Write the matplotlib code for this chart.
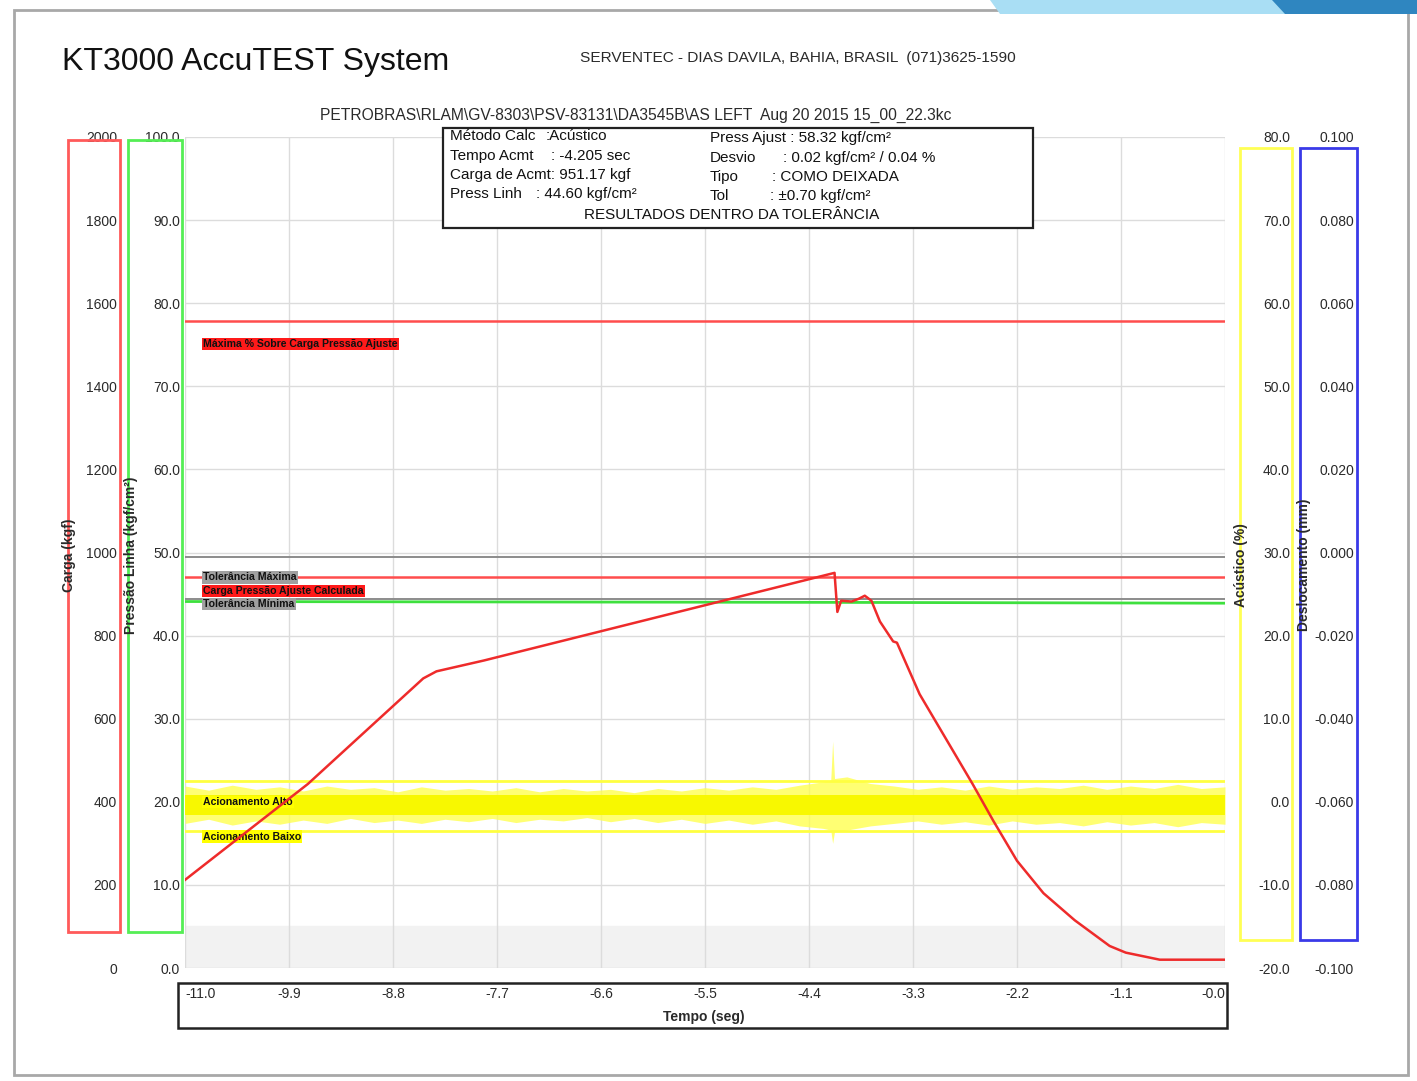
import matplotlib

matplotlib.use("Agg")

import matplotlib.pyplot as plt
from matplotlib.patches import Polygon, Rectangle

plt.rcParams["font.family"] = ["Liberation Sans", "DejaVu Sans"]

# ---- data ----
time_ticks = [-11.0, -9.9, -8.8, -7.7, -6.6, -5.5, -4.4, -3.3, -2.2, -1.1, 0.0]
time_labels = ["-11.0", "-9.9", "-8.8", "-7.7", "-6.6", "-5.5", "-4.4", "-3.3", "-2.2", "-1.1", "-0.0"]

carga_ticks = [0, 200, 400, 600, 800, 1000, 1200, 1400, 1600, 1800, 2000]
press_ticks = [0, 10, 20, 30, 40, 50, 60, 70, 80, 90, 100]
acust_ticks = [-20, -10, 0, 10, 20, 30, 40, 50, 60, 70, 80]
desloc_ticks = [-0.1, -0.08, -0.06, -0.04, -0.02, 0.0, 0.02, 0.04, 0.06, 0.08, 0.1]

# load (kgf) vs time (s)
load_time = [-11.0, -9.70, -8.48, -8.34, -7.84, -4.13, -4.10, -4.06, -3.95, -3.87,
             -3.81, -3.74, -3.65, -3.51, -3.47, -3.23, -2.67, -2.45, -2.20, -1.92,
             -1.59, -1.22, -1.05, -0.69, 0.0]
load_kgf = [212, 443, 697, 714, 740, 951, 857, 884, 882, 889,
            896, 884, 834, 786, 783, 659, 443, 354, 258, 180,
            115, 53, 37, 20, 20]

# line pressure (kgf/cm2)
line_time = [-11.0, -4.2, 0.0]
line_press = [44.1, 44.0, 43.9]

# acoustic signal envelope (%)
acust_time = [-11.0, -10.75, -10.5, -10.25, -10.0, -9.75, -9.5, -9.25, -9.0, -8.75,
              -8.5, -8.25, -8.0, -7.75, -7.5, -7.25, -7.0, -6.75, -6.5, -6.25,
              -6.0, -5.75, -5.5, -5.25, -5.0, -4.75, -4.5, -4.25,
              -4.17, -4.15, -4.13,
              -4.0, -3.75, -3.5, -3.25, -3.0, -2.75, -2.5, -2.25, -2.0,
              -1.75, -1.5, -1.25, -1.0, -0.75, -0.5, -0.25, 0.0]
acust_hi = [1.9, 1.4, 2.0, 1.5, 1.8, 1.3, 1.9, 1.5, 1.7, 1.2,
            1.8, 1.4, 1.6, 1.3, 1.7, 1.2, 1.6, 1.3, 1.5, 1.1,
            1.6, 1.3, 1.7, 1.4, 1.8, 1.5, 2.0, 2.4,
            2.6, 7.3, 2.8,
            3.0, 2.2, 1.9, 1.5, 1.8, 1.4, 1.9, 1.5, 1.8,
            1.6, 2.0, 1.5, 1.9, 1.6, 2.1, 1.6, 1.8]
acust_lo = [-2.6, -2.1, -2.8, -2.3, -2.7, -2.2, -2.6, -2.0, -2.5, -2.2,
            -2.6, -2.1, -2.4, -2.0, -2.5, -2.1, -2.3, -1.9, -2.4, -2.0,
            -2.5, -2.1, -2.6, -2.2, -2.7, -2.3, -2.9, -3.2,
            -3.4, -5.0, -3.6,
            -3.4, -2.9, -2.6, -2.3, -2.7, -2.4, -2.8, -2.3, -2.7,
            -2.5, -2.9, -2.4, -2.8, -2.5, -3.0, -2.5, -2.7]
acust_core_hi = 0.8
acust_core_lo = -1.6

# reference lines
max_overload = 1556
tol_max = 990
set_load = 941
tol_min = 888
trigger_high = 2.5
trigger_low = -3.5

W, H = 1417, 1081


def fx(px):
    return px / W


def fy(py):
    return 1 - py / H


fig = plt.figure(figsize=(W / 100, H / 100), dpi=100)
ink = "#2a2a2a"

ax = fig.add_axes([fx(185), fy(968), fx(1225) - fx(185), fy(137) - fy(968)])
ax.set_xlim(-11.0, 0.0)
ax.set_ylim(0, 2000)
ax.set_xticks(time_ticks, time_labels)
ax.set_yticks(carga_ticks, [str(v) for v in carga_ticks])
for spine in ax.spines.values():
    spine.set_visible(False)
ax.spines["left"].set_position(("axes", (117 - 185) / 1040))
ax.tick_params(axis="both", length=0, labelsize=10, labelcolor=ink)
ax.tick_params(axis="x", pad=14)
ax.tick_params(axis="y", pad=0)
xl = ax.get_xticklabels()
xl[0].set_ha("left")
xl[-1].set_ha("right")
ax.grid(True, color="#dcdcdc", linewidth=1.0)
ax.axhspan(0, 100, color="#f2f2f2", zorder=0)

# pressure axis (left, inner)
axp = ax.twinx()
axp.set_ylim(0, 100)
axp.yaxis.set_ticks_position("left")
axp.set_yticks(press_ticks, [f"{v:.1f}" for v in press_ticks])
for spine in axp.spines.values():
    spine.set_visible(False)
axp.spines["left"].set_position(("axes", (180 - 185) / 1040))
axp.tick_params(length=0, pad=0, labelsize=10, labelcolor=ink)
axp.plot(line_time, line_press, color="#3ee03e", lw=2)

# acoustic axis (right)
axa = ax.twinx()
axa.set_ylim(-20, 80)
for spine in axa.spines.values():
    spine.set_visible(False)
axa.spines["right"].set_position(("axes", (1290 - 185) / 1040))
axa.set_yticks(acust_ticks, [f"{v:.1f}" for v in acust_ticks])
axa.tick_params(length=0, pad=0, labelsize=10, labelcolor=ink)
plt.setp(axa.get_yticklabels(), ha="right")
axa.fill_between(acust_time, acust_lo, acust_hi, color="#ffff50", alpha=0.8, lw=0)
axa.fill_between([-11.0, 0.0], acust_core_lo, acust_core_hi, color="#f8f800", lw=0)
axa.axhline(trigger_high, color="#ffff40", lw=2)
axa.axhline(trigger_low, color="#ffff40", lw=2)
lab = dict(fontsize=7.6, fontweight="bold", va="center", color="#111111")
axa.text(-10.81, 0.0, "Acionamento Alto",
         bbox=dict(boxstyle="square,pad=0.12", fc="#ffff00", ec="none"), **lab)
axa.text(-10.81, -4.2, "Acionamento Baixo",
         bbox=dict(boxstyle="square,pad=0.12", fc="#ffff00", ec="none"), **lab)

# displacement axis (right, outer)
axd = ax.twinx()
axd.set_ylim(-0.1, 0.1)
for spine in axd.spines.values():
    spine.set_visible(False)
axd.spines["right"].set_position(("axes", (1354 - 185) / 1040))
axd.set_yticks(desloc_ticks, [f"{v:.3f}" for v in desloc_ticks])
axd.tick_params(length=0, pad=0, labelsize=10, labelcolor=ink)
plt.setp(axd.get_yticklabels(), ha="right")

# load curves on top
axc = ax.twinx()
axc.set_ylim(0, 2000)
axc.axis("off")
axc.axhline(max_overload, color="#ff4d4d", lw=1.8)
axc.axhline(tol_max, color="#8c8c8c", lw=1.4)
axc.axhline(set_load, color="#ff4d4d", lw=1.8)
axc.axhline(tol_min, color="#8c8c8c", lw=1.4)
axc.plot(load_time, load_kgf, color="#ee2b2b", lw=1.8)
axc.text(-10.81, 1502, "Máxima % Sobre Carga Pressão Ajuste",
         bbox=dict(boxstyle="square,pad=0.12", fc="#ff1a1a", ec="none"), **lab)
axc.text(-10.81, 940, "Tolerância Máxima",
         bbox=dict(boxstyle="square,pad=0.12", fc="#a0a0a0", ec="none"), **lab)
axc.text(-10.81, 907, "Carga Pressão Ajuste Calculada",
         bbox=dict(boxstyle="square,pad=0.12", fc="#ff1a1a", ec="none"), **lab)
axc.text(-10.81, 876, "Tolerância Mínima",
         bbox=dict(boxstyle="square,pad=0.12", fc="#a0a0a0", ec="none"), **lab)

# axis label frames
frames = [(68, 120, 140, 932, "#ff5a5a"), (128, 182, 140, 932, "#55ee55"),
          (1240, 1292, 148, 940, "#ffff55"), (1300, 1357, 148, 940, "#3a3ae8")]
for x0, x1, y0, y1, col in frames:
    fig.add_artist(Rectangle((fx(x0), fy(y1)), fx(x1) - fx(x0), fy(y0) - fy(y1),
                             transform=fig.transFigure, fill=False, ec=col, lw=2))

axis_labels = [(69, 555, "Carga (kgf)"), (131, 555, "Pressão Linha (kgf/cm²)"),
               (1241, 565, "Acústico (%)"), (1304, 565, "Deslocamento (mm)")]
for px, py, txt in axis_labels:
    fig.text(fx(px), fy(py), txt, rotation=90, ha="center", va="center",
             fontsize=10, fontweight="bold", color=ink)

# time axis frame
fig.add_artist(Rectangle((fx(178), fy(1028)), fx(1227) - fx(178), fy(983) - fy(1028),
                         transform=fig.transFigure, fill=False, ec="#222222", lw=1.8))
fig.text(fx(704), fy(1017), "Tempo (seg)", ha="center", va="center",
         fontsize=10, fontweight="bold", color=ink)

# header
fig.text(fx(62), fy(62), "KT3000 AccuTEST System", fontsize=23, va="center", color="#111111")
fig.text(fx(580), fy(58), "SERVENTEC - DIAS DAVILA, BAHIA, BRASIL  (071)3625-1590",
         fontsize=11.1, va="center", color=ink)
fig.text(fx(320), fy(115),
         "PETROBRAS\\RLAM\\GV-8303\\PSV-83131\\DA3545B\\AS LEFT  Aug 20 2015 15_00_22.3kc",
         fontsize=11.25, va="center", color=ink)

# result box
fig.add_artist(Rectangle((fx(443), fy(228)), fx(1033) - fx(443), fy(128) - fy(228),
                         transform=fig.transFigure, fc="white", ec="#222222", lw=1.6, zorder=2))
info = [
    (450, 136, "Método Calc"), (546, 136, ":Acústico"),
    (450, 156, "Tempo Acmt"), (551, 156, ": -4.205 sec"),
    (450, 175, "Carga de Acmt: 951.17 kgf"),
    (450, 194, "Press Linh"), (536, 194, ": 44.60 kgf/cm²"),
    (710, 138, "Press Ajust : 58.32 kgf/cm²"),
    (710, 158, "Desvio"), (783, 158, ": 0.02 kgf/cm² / 0.04 %"),
    (710, 177, "Tipo"), (772, 177, ": COMO DEIXADA"),
    (710, 196, "Tol"), (770, 196, ": ±0.70 kgf/cm²"),
]
for px, py, txt in info:
    fig.text(fx(px), fy(py), txt, fontsize=11, va="center", color="#111111", zorder=3)
fig.text(fx(732), fy(215), "RESULTADOS DENTRO DA TOLERÂNCIA", fontsize=11,
         ha="center", va="center", color="#111111", zorder=3)

# page edge and slide decoration
fig.add_artist(Rectangle((fx(14), fy(1075)), fx(1408) - fx(14), fy(10) - fy(1075),
                         transform=fig.transFigure, fill=False, ec="#a8a8a8", lw=2))
fig.add_artist(Polygon([(fx(990), 1), (fx(1000), fy(14)), (1, fy(14)), (1, 1)],
                       closed=True, transform=fig.transFigure, fc="#a9def4", ec="none"))
fig.add_artist(Polygon([(fx(1272), 1), (fx(1285), fy(14)), (1, fy(14)), (1, 1)],
                       closed=True, transform=fig.transFigure, fc="#2f86c0", ec="none"))

fig.savefig("out.png", dpi=100)
plt.close(fig)
